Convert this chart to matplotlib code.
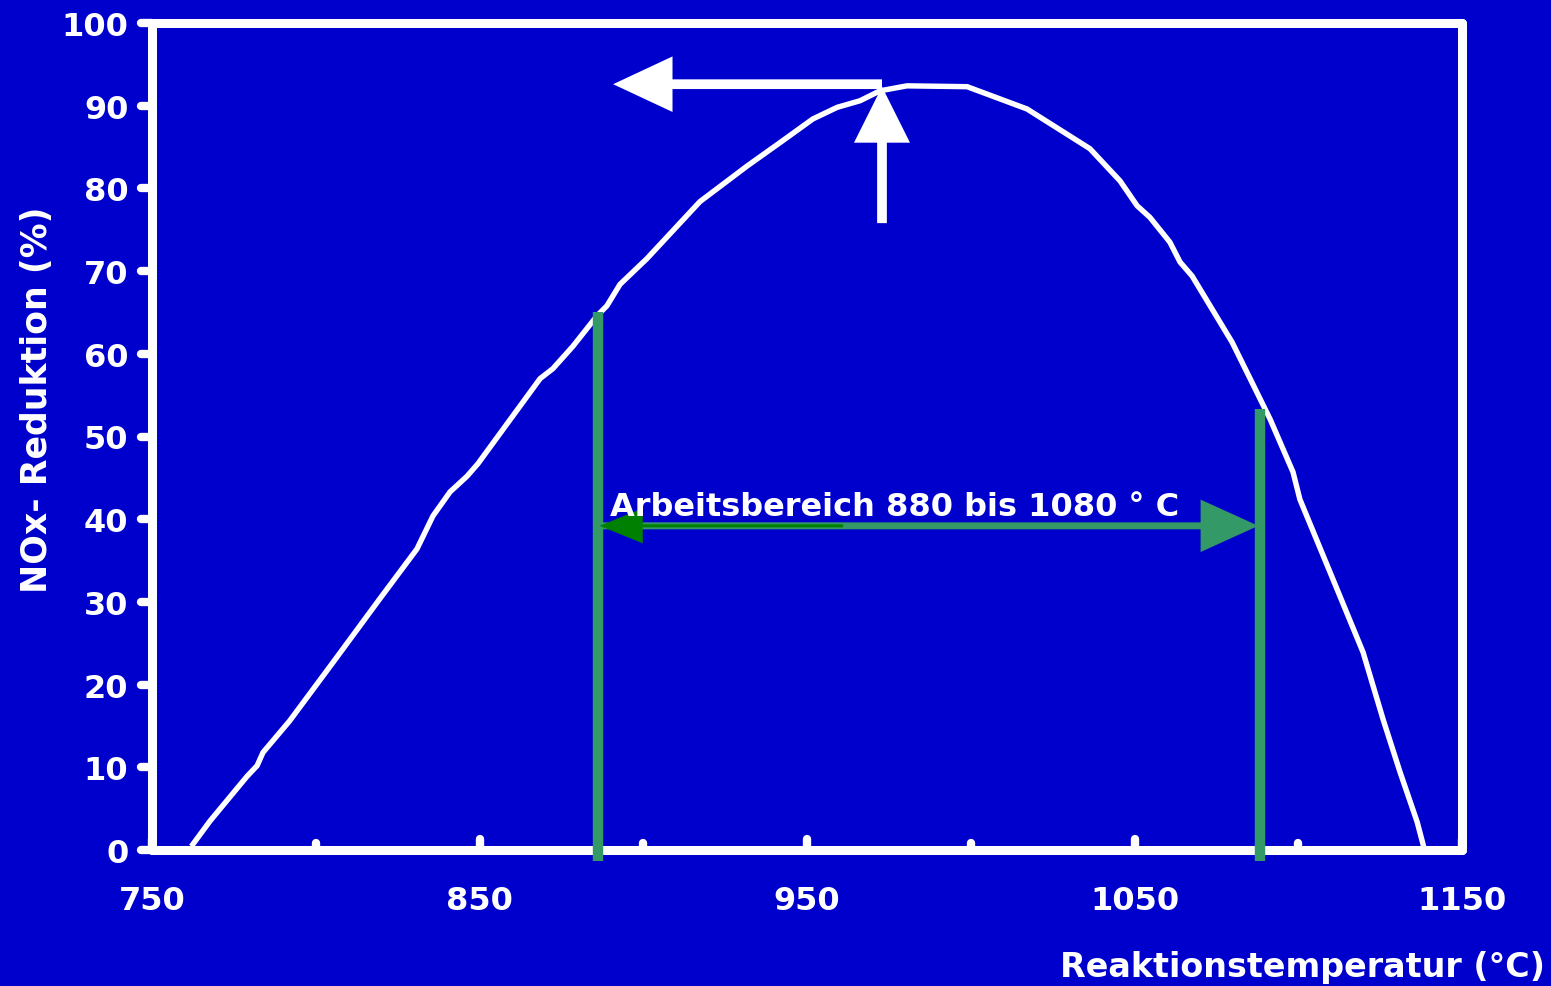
import numpy as np
import matplotlib
matplotlib.use("Agg")
import matplotlib.pyplot as plt
from matplotlib.patches import FancyArrowPatch
from matplotlib.markers import MarkerStyle

# curve
temp = [762.5, 767.7, 779.0, 782.1, 783.9, 792.0, 805.3, 819.6, 830.9, 835.8, 841.0,
        846.2, 849.5, 868.5, 872.4, 878.5, 885.9, 888.9, 892.9, 901.1, 917.3, 931.7,
        943.4, 951.8, 959.2, 966.2, 972.3, 980.5, 998.9, 1017.2, 1036.4, 1045.6,
        1050.8, 1054.7, 1060.8, 1063.9, 1067.6, 1079.8, 1085.3, 1091.4, 1098.4,
        1100.5, 1109.7, 1119.8, 1125.9, 1131.1, 1136.3, 1138.1]
nox = [0.7, 3.5, 8.9, 10.2, 11.8, 15.6, 22.7, 30.4, 36.4, 40.4, 43.3,
       45.2, 46.7, 57.0, 58.2, 60.9, 64.6, 65.8, 68.4, 71.5, 78.4, 82.7,
       86.0, 88.4, 89.8, 90.6, 91.8, 92.4, 92.3, 89.6, 84.8, 80.9,
       77.9, 76.5, 73.5, 71.1, 69.4, 61.4, 57.0, 52.1, 45.7,
       42.4, 33.6, 23.9, 15.8, 9.4, 3.4, 0.7]

x_major = [750, 850, 950, 1050, 1150]
x_minor = [800, 900, 1000, 1100]
y_ticks = [0, 10, 20, 30, 40, 50, 60, 70, 80, 90, 100]

# working range markers
range_lo, range_hi = 886.2, 1088.3
range_lo_top, range_hi_top = 65.1, 53.3
range_arrow_y = 39.2
range_text = "Arbeitsbereich 880 bis 1080 ° C"

# optimum marker
opt_t, opt_y = 972.9, 92.6
opt_left = 890.8
opt_bottom, opt_tip = 75.8, 92.3

bg = "#0000CC"
green = "#339966"
dark_green = "#008000"

plt.rcParams['font.family'] = ['DejaVu Sans']
plt.rcParams['font.weight'] = 'bold'

fig = plt.figure(figsize=(15.51, 9.87), dpi=100, facecolor=bg)
ax = fig.add_axes([152/1551, 136/987, 1310/1551, 827/987], facecolor=bg)

ax.plot(temp, nox, color="white", lw=3.9, solid_joinstyle="round", zorder=3)

ax.set_xlim(750, 1150)
ax.set_ylim(0, 100)

for s in ax.spines.values():
    s.set_color("white")
    s.set_linewidth(6.5)
    s.set_capstyle("round")
    s.set_joinstyle("round")

ax.set_xticks(x_major)
ax.set_xticks(x_minor, minor=True)
ax.set_yticks(y_ticks)
ax.tick_params(axis="x", which="major", direction="in", length=8, width=6,
               color="white", labelcolor="white", labelsize=23, pad=25)
ax.tick_params(axis="x", which="minor", direction="in", length=5, width=6,
               color="white")
ax.tick_params(axis="y", direction="in", length=8, width=6,
               color="white", labelcolor="white", labelsize=23, pad=17)
for lab in ax.get_xticklabels() + ax.get_yticklabels():
    lab.set_fontweight("bold")

# round tick ends
for tk in ax.xaxis.get_major_ticks() + ax.xaxis.get_minor_ticks():
    tk.tick1line.set_marker(MarkerStyle(2, capstyle="round"))
for tk in ax.yaxis.get_major_ticks():
    tk.tick1line.set_marker(MarkerStyle(0, capstyle="round"))

# green range lines
for t, top in [(range_lo, range_lo_top), (range_hi, range_hi_top)]:
    ax.plot([t, t], [-1.3, top], color=green, lw=7.5, solid_capstyle="butt",
            clip_on=False, zorder=4)

a1 = FancyArrowPatch((range_lo, range_arrow_y), (range_hi - 0.5, range_arrow_y),
                     arrowstyle="-|>,head_length=33,head_width=15",
                     mutation_scale=1, color=green, lw=5, shrinkA=0, shrinkB=0,
                     joinstyle="miter", capstyle="butt", zorder=5)
ax.add_patch(a1)
a2 = FancyArrowPatch((961, range_arrow_y), (range_lo + 0.5, range_arrow_y),
                     arrowstyle="-|>,head_length=27,head_width=11",
                     mutation_scale=1, color=dark_green, lw=2.2, shrinkA=0, shrinkB=0,
                     joinstyle="miter", capstyle="butt", zorder=6)
ax.add_patch(a2)

ax.text(889.8, 40.5, range_text, color="white", fontsize=23, fontweight="bold",
        ha="left", va="baseline", zorder=7)

# white arrows at the optimum
a3 = FancyArrowPatch((opt_t, opt_y), (opt_left, opt_y),
                     arrowstyle="-|>,head_length=31,head_width=14.5",
                     mutation_scale=1, color="white", lw=7, shrinkA=0, shrinkB=0,
                     joinstyle="miter", capstyle="butt", zorder=6)
ax.add_patch(a3)
a4 = FancyArrowPatch((opt_t, opt_bottom), (opt_t, opt_tip),
                     arrowstyle="-|>,head_length=29,head_width=14.5",
                     mutation_scale=1, color="white", lw=7, shrinkA=0, shrinkB=0,
                     joinstyle="miter", capstyle="butt", zorder=6)
ax.add_patch(a4)

fig.text(37/1551, 1 - 400/987, "NOx- Reduktion (%)", color="white", fontsize=25,
         fontweight="bold", rotation=90, ha="center", va="center")
fig.text(1545/1551, 10/987, "Reaktionstemperatur (°C)", color="white", fontsize=24,
         fontweight="bold", ha="right", va="baseline")

fig.savefig("out.png", dpi=100, facecolor=bg)
